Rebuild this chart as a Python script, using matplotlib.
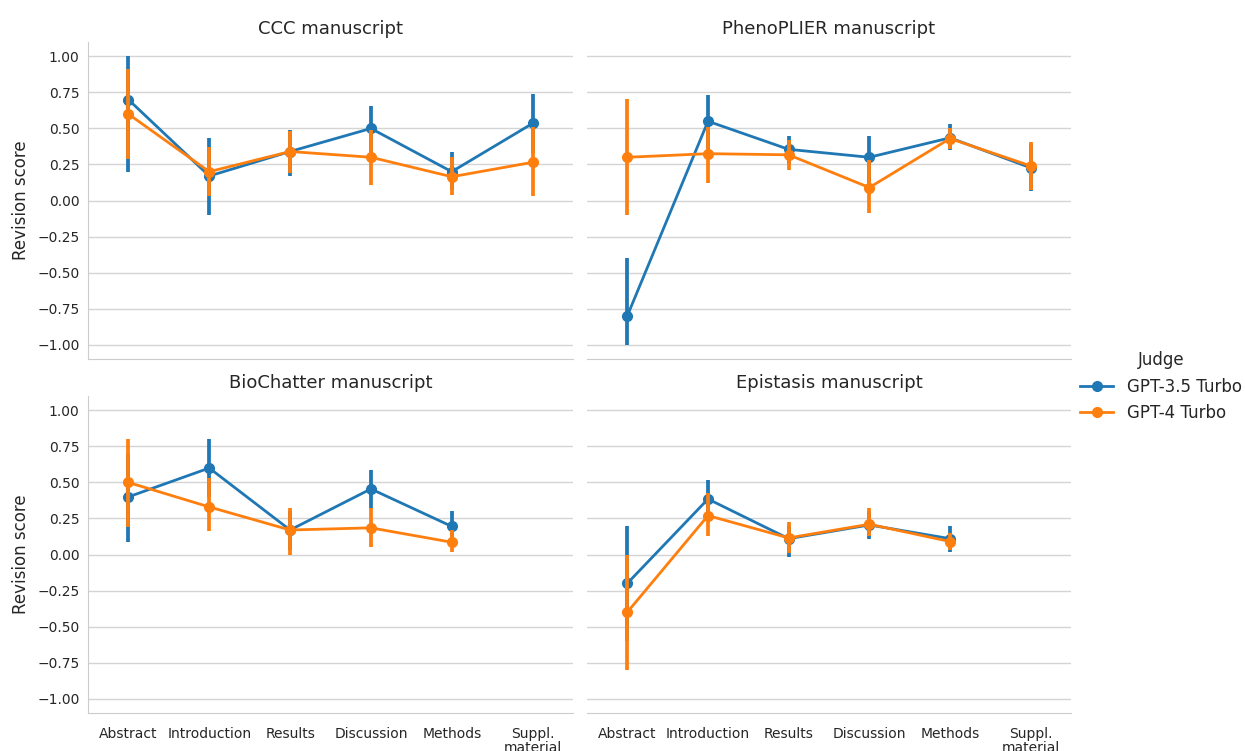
import numpy as np
import matplotlib
matplotlib.use("Agg")
import matplotlib.pyplot as plt

sections = ["Abstract", "Introduction", "Results", "Discussion", "Methods", "Suppl.\nmaterial"]
manuscripts = ["CCC manuscript", "PhenoPLIER manuscript", "BioChatter manuscript", "Epistasis manuscript"]
judges = ["GPT-3.5 Turbo", "GPT-4 Turbo"]
nan = np.nan

# CCC
ccc_gpt35_mean = [0.70, 0.17, 0.34, 0.50, 0.20, 0.535]
ccc_gpt35_lo = [0.20, -0.10, 0.17, 0.33, 0.07, 0.33]
ccc_gpt35_hi = [1.00, 0.435, 0.486, 0.655, 0.34, 0.74]
ccc_gpt4_mean = [0.60, 0.20, 0.34, 0.30, 0.165, 0.265]
ccc_gpt4_lo = [0.29, 0.03, 0.19, 0.11, 0.035, 0.03]
ccc_gpt4_hi = [0.91, 0.37, 0.48, 0.49, 0.30, 0.51]

# PhenoPLIER
pheno_gpt35_mean = [-0.80, 0.55, 0.355, 0.30, 0.435, 0.227]
pheno_gpt35_lo = [-1.00, 0.33, 0.25, 0.12, 0.35, 0.065]
pheno_gpt35_hi = [-0.40, 0.73, 0.45, 0.45, 0.53, 0.39]
pheno_gpt4_mean = [0.30, 0.325, 0.317, 0.09, 0.43, 0.24]
pheno_gpt4_lo = [-0.10, 0.12, 0.21, -0.09, 0.355, 0.075]
pheno_gpt4_hi = [0.705, 0.51, 0.42, 0.28, 0.50, 0.405]

# BioChatter
bio_gpt35_mean = [0.40, 0.60, 0.17, 0.455, 0.195, nan]
bio_gpt35_lo = [0.09, 0.40, 0.03, 0.32, 0.09, nan]
bio_gpt35_hi = [0.70, 0.80, 0.30, 0.585, 0.30, nan]
bio_gpt4_mean = [0.50, 0.33, 0.17, 0.185, 0.085, nan]
bio_gpt4_lo = [0.19, 0.16, 0.00, 0.05, 0.015, nan]
bio_gpt4_hi = [0.80, 0.53, 0.32, 0.32, 0.17, nan]

# Epistasis
epi_gpt35_mean = [-0.20, 0.385, 0.11, 0.205, 0.11, nan]
epi_gpt35_lo = [-0.60, 0.25, -0.02, 0.11, 0.02, nan]
epi_gpt35_hi = [0.20, 0.515, 0.20, 0.30, 0.195, nan]
epi_gpt4_mean = [-0.40, 0.27, 0.115, 0.21, 0.09, nan]
epi_gpt4_lo = [-0.80, 0.125, 0.01, 0.125, 0.03, nan]
epi_gpt4_hi = [0.00, 0.43, 0.225, 0.32, 0.15, nan]

data = {
    "CCC manuscript": [(ccc_gpt35_mean, ccc_gpt35_lo, ccc_gpt35_hi), (ccc_gpt4_mean, ccc_gpt4_lo, ccc_gpt4_hi)],
    "PhenoPLIER manuscript": [(pheno_gpt35_mean, pheno_gpt35_lo, pheno_gpt35_hi), (pheno_gpt4_mean, pheno_gpt4_lo, pheno_gpt4_hi)],
    "BioChatter manuscript": [(bio_gpt35_mean, bio_gpt35_lo, bio_gpt35_hi), (bio_gpt4_mean, bio_gpt4_lo, bio_gpt4_hi)],
    "Epistasis manuscript": [(epi_gpt35_mean, epi_gpt35_lo, epi_gpt35_hi), (epi_gpt4_mean, epi_gpt4_lo, epi_gpt4_hi)],
}

colors = ["#1f77b4", "#ff7f0e"]
yticks = [-1.00, -0.75, -0.50, -0.25, 0.00, 0.25, 0.50, 0.75, 1.00]

fig = plt.figure(figsize=(12.45, 7.51), dpi=100)
W, H = 1245, 751
boxes = [(88, 42, 573, 359), (587, 42, 1071, 359), (88, 396, 573, 713), (587, 396, 1071, 713)]
tick_color = "#262626"
x = np.arange(len(sections))
handles = []
for i, (name, (x0, y0, x1, y1)) in enumerate(zip(manuscripts, boxes)):
    ax = fig.add_axes([x0 / W, 1 - y1 / H, (x1 - x0) / W, (y1 - y0) / H])
    ax.set_xlim(-0.5, len(sections) - 0.5)
    ax.set_ylim(-1.1, 1.1)
    ax.set_yticks(yticks)
    ax.yaxis.grid(True, color="#d4d4d4", linewidth=1.0)
    ax.set_axisbelow(True)
    for s in ["top", "right"]:
        ax.spines[s].set_visible(False)
    ax.spines["bottom"].set_color("#cccccc")
    ax.spines["left"].set_color("#cccccc")
    if i % 2 == 1:
        ax.spines["left"].set_visible(False)
    ax.tick_params(axis="y", length=0, labelsize=10, colors=tick_color, pad=6)
    ax.tick_params(axis="x", length=0, labelsize=10, colors=tick_color, pad=10)
    ax.set_xticks(x)
    if i >= 2:
        ax.set_xticklabels(sections, linespacing=1.0)
    else:
        ax.set_xticklabels([])
    if i % 2 == 0:
        ax.set_yticklabels(["\u22121.00", "\u22120.75", "\u22120.50", "\u22120.25", "0.00", "0.25", "0.50", "0.75", "1.00"])
        ax.set_ylabel("Revision score", fontsize=12, color=tick_color, labelpad=5)
    else:
        ax.set_yticklabels([])
    ax.set_title(name, fontsize=13, color=tick_color, pad=6)
    for j, (mean, lo, hi) in enumerate(data[name]):
        mean = np.array(mean, dtype=float)
        lo = np.array(lo, dtype=float)
        hi = np.array(hi, dtype=float)
        ax.vlines(x, lo, hi, color=colors[j], linewidth=2.7, zorder=2 + j)
        ln, = ax.plot(x, mean, color=colors[j], linewidth=2.0, marker="o", markersize=7, zorder=2 + j, label=judges[j])
        if i == 0:
            handles.append(ln)

leg = fig.legend(handles=handles, labels=judges, title="Judge", loc="center left",
                 bbox_to_anchor=(0.862, 0.485), frameon=False, fontsize=12, title_fontsize=12,
                 handlelength=2.0, handletextpad=0.8, borderaxespad=0.0)
for t in leg.get_texts():
    t.set_color(tick_color)
leg.get_title().set_color(tick_color)

fig.savefig("out.png", dpi=100)
